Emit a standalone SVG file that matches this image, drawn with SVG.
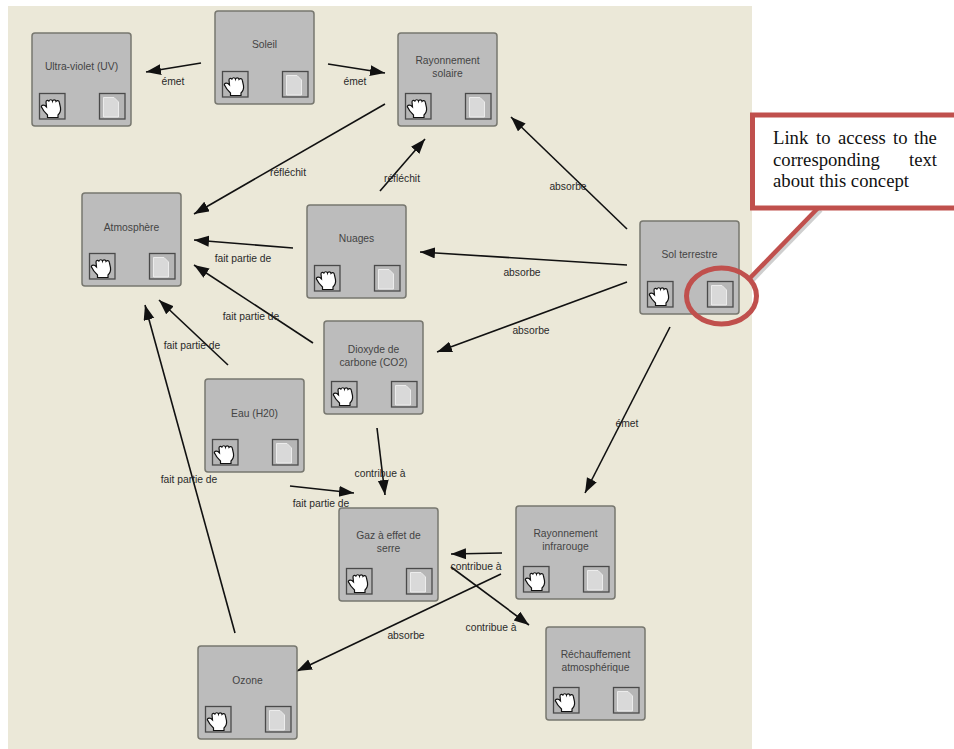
<svg xmlns="http://www.w3.org/2000/svg" width="954" height="749" viewBox="0 0 954 749">
<style>
.box{fill:#bcbcbc;stroke:#77776f;stroke-width:1.500}
.ico{fill:#b6b6b6;stroke:#4a4a4a;stroke-width:1.300}
.t{font-family:"Liberation Sans",Arial,sans-serif;font-size:10.300px;fill:#444;text-anchor:middle}
.l{font-family:"Liberation Sans",Arial,sans-serif;font-size:10.300px;fill:#2a2a2a;text-anchor:middle}
.c{stroke:#111;stroke-width:1.600;fill:none;marker-end:url(#a)}
.n{font-family:"Liberation Serif","Times New Roman",serif;font-size:18.700px;fill:#111}
</style>
<defs>
<marker id="a" markerUnits="userSpaceOnUse" markerWidth="16" markerHeight="12" refX="15" refY="5.500" orient="auto"><path d="M0 0L15 5.500L0 11z" fill="#111"/></marker>
<g id="icons">
<rect class="ico" x="7.500" y="60.500" width="25.500" height="25.500"/>
<path d="M9.500 74.500c-1-2 1.500-3 3.500-2l1.500 1.500l-.5-5c0-2 2.500-2.300 3-.5c0-2.300 3-2.300 3.500-.3c.5-1.800 3-1.800 3.500 .2c1-1.200 3-1 3.300 .8l1.200 5.500c.5 3.500-.5 5.500-2.500 7.300v2.500h-10.500v-2.500c-2.500-2.300-4.500-4.500-6-8z" fill="#fff" stroke="#111" stroke-width="1.200"/>
<rect class="ico" x="67.500" y="60.500" width="25.500" height="25.500"/>
<path d="M71.500 64.500h10.500l4.500 4.500v15h-15z" fill="#d9d9d9" stroke="#ececec"/>
</g>
<g id="node"><rect class="box" width="99" height="93" rx="3"/><use href="#icons"/></g>
</defs>
<rect width="954" height="749" fill="#fff"/>
<rect x="8" y="6" width="744" height="743" fill="#ebe8d8"/>
<g id="connectors">
<path class="c" d="M201 63L146 72"/>
<path class="c" d="M328 64L385 73"/>
<path class="c" d="M385 104L194 214"/>
<path class="c" d="M380 191L425 139"/>
<path class="c" d="M627 229L511 117"/>
<path class="c" d="M627 265L420 252"/>
<path class="c" d="M627 282L437 352"/>
<path class="c" d="M670 327L585 493"/>
<path class="c" d="M293 248L194 240"/>
<path class="c" d="M313 343L194 265"/>
<path class="c" d="M228 365L159 300"/>
<path class="c" d="M235 633L145 305"/>
<path class="c" d="M377 428L385 495"/>
<path class="c" d="M290 486L354 493"/>
<path class="c" d="M502 553L451 554"/>
<path class="c" d="M451 567L529 625"/>
<path class="c" d="M501 574L297 671"/>
<text class="l" x="173" y="85">émet</text>
<text class="l" x="355" y="85">émet</text>
<text class="l" x="288" y="176">réfléchit</text>
<text class="l" x="402" y="182">réfléchit</text>
<text class="l" x="568" y="190">absorbe</text>
<text class="l" x="522" y="276">absorbe</text>
<text class="l" x="531" y="334">absorbe</text>
<text class="l" x="627" y="427">émet</text>
<text class="l" x="243" y="262">fait partie de</text>
<text class="l" x="251" y="320">fait partie de</text>
<text class="l" x="192" y="349">fait partie de</text>
<text class="l" x="189" y="483">fait partie de</text>
<text class="l" x="321" y="507">fait partie de</text>
<text class="l" x="380" y="477">contribue à</text>
<text class="l" x="476" y="570">contribue à</text>
<text class="l" x="491" y="631">contribue à</text>
<text class="l" x="406" y="639">absorbe</text>
</g>
<g id="n-uv" transform="translate(32 33)"><use href="#node"/><text class="t" x="49.500" y="37">Ultra-violet (UV)</text></g>
<g id="n-soleil" transform="translate(215 11)"><use href="#node"/><text class="t" x="49.500" y="37">Soleil</text></g>
<g id="n-rs" transform="translate(398 33)"><use href="#node"/><text class="t" x="49.500" y="31">Rayonnement</text><text class="t" x="49.500" y="44">solaire</text></g>
<g id="n-atm" transform="translate(82 193)"><use href="#node"/><text class="t" x="49.500" y="38">Atmosphère</text></g>
<g id="n-nuages" transform="translate(307 205)"><use href="#node"/><text class="t" x="49.500" y="37">Nuages</text></g>
<g id="n-sol" transform="translate(640 221)"><use href="#node"/><text class="t" x="49.500" y="37">Sol terrestre</text></g>
<g id="n-co2" transform="translate(324 321)"><use href="#node"/><text class="t" x="49.500" y="32">Dioxyde de</text><text class="t" x="49.500" y="45">carbone (CO2)</text></g>
<g id="n-eau" transform="translate(205 379)"><use href="#node"/><text class="t" x="49.500" y="38">Eau (H20)</text></g>
<g id="n-gaz" transform="translate(339 508)"><use href="#node"/><text class="t" x="49.500" y="31">Gaz à effet de</text><text class="t" x="49.500" y="44">serre</text></g>
<g id="n-ri" transform="translate(516 506)"><use href="#node"/><text class="t" x="49.500" y="31">Rayonnement</text><text class="t" x="49.500" y="44">infrarouge</text></g>
<g id="n-rech" transform="translate(546 627)"><use href="#node"/><text class="t" x="49.500" y="31">Réchauffement</text><text class="t" x="49.500" y="44">atmosphérique</text></g>
<g id="n-ozone" transform="translate(198 646)"><use href="#node"/><text class="t" x="49.500" y="38">Ozone</text></g>
<g id="callout">
<path d="M753 280L821 210" stroke="#cfcfcf" stroke-width="4" fill="none"/>
<path d="M750 278L818 208" stroke="#c0504d" stroke-width="4.500" fill="none"/>
<ellipse cx="721.500" cy="296" rx="35" ry="28" fill="none" stroke="#c0504d" stroke-width="5"/>
<rect x="752.500" y="115" width="210" height="93" fill="#fff" stroke="#c0504d" stroke-width="5"/>
<text class="n" x="773" y="144">Link</text><text class="n" x="816" y="144">to</text><text class="n" x="838" y="144">access</text><text class="n" x="893" y="144">to</text><text class="n" x="914" y="144">the</text>
<text class="n" x="773" y="166">corresponding</text><text class="n" x="909" y="166">text</text>
<text class="n" x="773" y="187">about this concept</text>
</g>
</svg>
